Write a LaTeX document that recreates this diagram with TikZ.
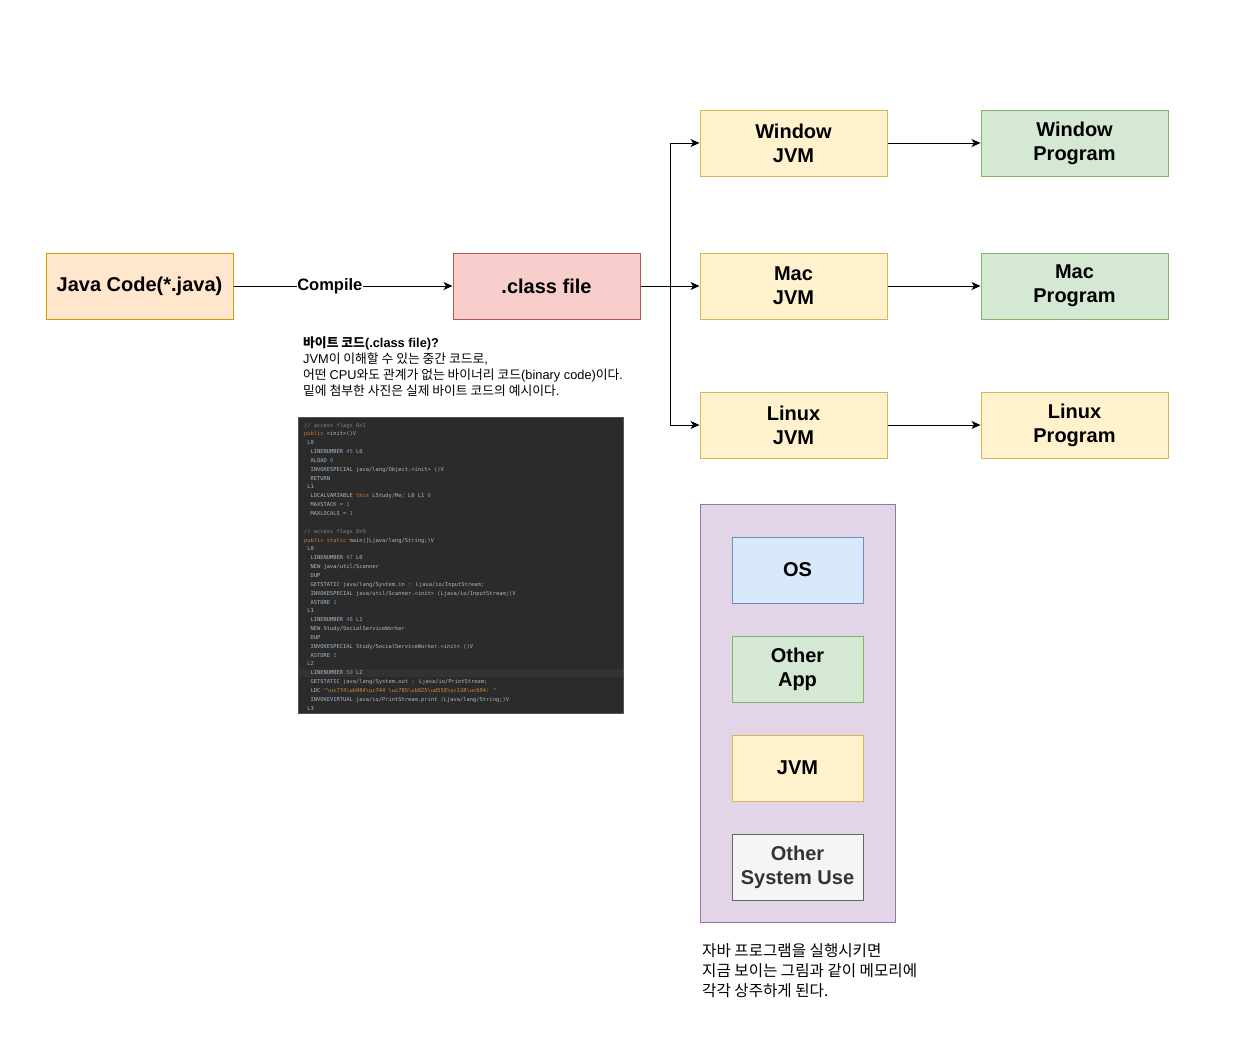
\documentclass[tikz,border=0pt]{standalone}
\usepackage{fontspec}
\setmainfont{Liberation Sans}
\newfontfamily\kr{Noto Sans CJK KR}
\newfontfamily\codefont{DejaVu Sans Mono}
\usetikzlibrary{arrows.meta}
\definecolor{orangeF}{HTML}{FFE6CC}\definecolor{orangeD}{HTML}{D79B00}
\definecolor{redF}{HTML}{F8CECC}\definecolor{redD}{HTML}{B85450}
\definecolor{yelF}{HTML}{FFF2CC}\definecolor{yelD}{HTML}{D6B656}
\definecolor{grnF}{HTML}{D5E8D4}\definecolor{grnD}{HTML}{82B366}
\definecolor{purF}{HTML}{E1D5E7}\definecolor{purD}{HTML}{9673A6}
\definecolor{bluF}{HTML}{DAE8FC}\definecolor{bluD}{HTML}{6C8EBF}
\definecolor{gryF}{HTML}{F5F5F5}\definecolor{gryD}{HTML}{666666}
\definecolor{gryT}{HTML}{333333}
\definecolor{codeBg}{HTML}{2B2B2B}\definecolor{codeHl}{HTML}{323232}
\definecolor{codeTx}{HTML}{A9B7C6}\definecolor{codeCm}{HTML}{808080}
\definecolor{codeKw}{HTML}{CC7832}\definecolor{codeNm}{HTML}{6897BB}
\definecolor{codeSt}{HTML}{CC8A3A}
\newcommand\ccm[1]{\textcolor{codeCm}{#1}}
\newcommand\ckw[1]{\textcolor{codeKw}{#1}}
\newcommand\cnum[1]{\textcolor{codeNm}{#1}}
\newcommand\cstr[1]{\textcolor{codeSt}{#1}}
\newcommand\bs{\textbackslash}
\begin{document}
\begin{tikzpicture}[x=1pt,y=-1pt,
  box/.style={draw, line width=1pt, minimum width=187pt, minimum height=66pt, inner sep=0pt,
    align=center, font=\bfseries\fontsize{20}{24}\selectfont},
  jvmbox/.style={box, fill=yelF, draw=yelD},
  progbox/.style={box, fill=grnF, draw=grnD},
  membox/.style={box, minimum width=131pt},
  arr/.style={-{Stealth[length=9pt,width=8pt,inset=2.5pt]}, line width=1pt, draw=black},
  codeline/.style={anchor=base west, inner sep=0pt, text=codeTx, font=\codefont\fontsize{5.4}{6}\selectfont},
  krline/.style={anchor=base west, inner sep=0pt, font=\fontsize{12.8}{16}\selectfont},
  krbig/.style={anchor=base west, inner sep=0pt, font=\kr\fontsize{15.6}{20}\selectfont}]
\useasboundingbox[fill=white] (0,0) rectangle (1236,1036);

% main flow
\node[box, fill=orangeF, draw=orangeD] (java) at (139.5,286) {Java Code(*.java)};
\node[box, fill=redF, draw=redD] (class) at (546.5,286) {.class file};
\node[jvmbox] (winjvm) at (793.5,143) {Window\\JVM};
\node[jvmbox] (macjvm) at (793.5,286) {Mac\\JVM};
\node[jvmbox] (linjvm) at (793.5,425) {Linux\\JVM};
\node[progbox] (winprog) at (1074.5,143) {Window\\Program};
\node[progbox] (macprog) at (1074.5,286) {Mac\\Program};
\node[jvmbox] (linprog) at (1074.5,425) {Linux\\Program};

\draw[arr] (java) -- node[pos=0.44, fill=white, inner sep=0.5pt, font=\bfseries\fontsize{16.5}{20}\selectfont] (compile) {Compile} (class);
\coordinate (split) at (670,286);
\draw[arr] (class) -- (macjvm);
\draw[arr] (split) |- (winjvm.west);
\draw[arr] (split) |- (linjvm.west);
\draw[arr] (winjvm) -- (winprog);
\draw[arr] (macjvm) -- (macprog);
\draw[arr] (linjvm) -- (linprog);

% bytecode explanation
\node[krline] (k1) at (303,347.5) {{\kr\bfseries 바이트 코드}\textbf{(.class file)?}};
\node[krline] (k2) at (303,363.5) {JVM{\kr 이 이해할 수 있는 중간 코드로},};
\node[krline] (k3) at (303,379.5) {{\kr 어떤 }CPU{\kr 와도 관계가 없는 바이너리 코드}(binary code){\kr 이다}.};
\node[krline] (k4) at (303,395.5) {{\kr 밑에 첨부한 사진은 실제 바이트 코드의 예시이다}.};

% bytecode picture
\node[fill=codeBg, draw=codeBg!80!white, line width=0.6pt, minimum width=325pt, minimum height=296pt, inner sep=0pt, anchor=north west] (code) at (298,417) {};
\fill[codeHl] (298.5,668.5) rectangle (622.5,677);
\foreach \t [count=\i] in {
 {\ccm{// access flags 0x1}},
 {\ckw{public} <init>()V},
 {~L0},
 {~~LINENUMBER \cnum{45} L0},
 {~~ALOAD \cnum{0}},
 {~~INVOKESPECIAL java/lang/Object.<init> ()V},
 {~~RETURN},
 {~L1},
 {~~LOCALVARIABLE \ckw{this} LStudy/Me; L0 L1 \cnum{0}},
 {~~MAXSTACK = \cnum{1}},
 {~~MAXLOCALS = \cnum{1}},
 {},
 {\ccm{// access flags 0x9}},
 {\ckw{public static} main([Ljava/lang/String;)V},
 {~L0},
 {~~LINENUMBER \cnum{47} L0},
 {~~NEW java/util/Scanner},
 {~~DUP},
 {~~GETSTATIC java/lang/System.in : Ljava/io/InputStream;},
 {~~INVOKESPECIAL java/util/Scanner.<init> (Ljava/io/InputStream;)V},
 {~~ASTORE \cnum{1}},
 {~L1},
 {~~LINENUMBER \cnum{48} L1},
 {~~NEW Study/SocialServiceWorker},
 {~~DUP},
 {~~INVOKESPECIAL Study/SocialServiceWorker.<init> ()V},
 {~~ASTORE \cnum{2}},
 {~L2},
 {~~LINENUMBER \cnum{50} L2},
 {~~GETSTATIC java/lang/System.out : Ljava/io/PrintStream;},
 {~~LDC \cstr{"\bs uc774\bs ub984\bs uc744 \bs uc785\bs ub825\bs ud558\bs uc138\bs uc694: "}},
 {~~INVOKEVIRTUAL java/io/PrintStream.print (Ljava/lang/String;)V},
 {~L3}}
 { \node[codeline] (c\i) at (304, 427+8.85*\i-8.85) {\t}; }

% memory
\node[draw=purD, fill=purF, line width=1pt, minimum width=195pt, minimum height=418pt, inner sep=0pt, anchor=north west] (mem) at (700,504) {};
\node[membox, fill=bluF, draw=bluD] (os) at (797.5,570) {OS};
\node[membox, fill=grnF, draw=grnD] (oapp) at (797.5,669) {Other\\App};
\node[membox, fill=yelF, draw=yelD] (mjvm) at (797.5,768) {JVM};
\node[membox, fill=gryF, draw=gryD, text=gryT] (osys) at (797.5,867) {Other\\System Use};

\node[krbig] (b1) at (702,956) {자바 프로그램을 실행시키면};
\node[krbig] (b2) at (702,976) {지금 보이는 그림과 같이 메모리에};
\node[krbig] (b3) at (702,996) {각각 상주하게 된다.};
\end{tikzpicture}
\end{document}
